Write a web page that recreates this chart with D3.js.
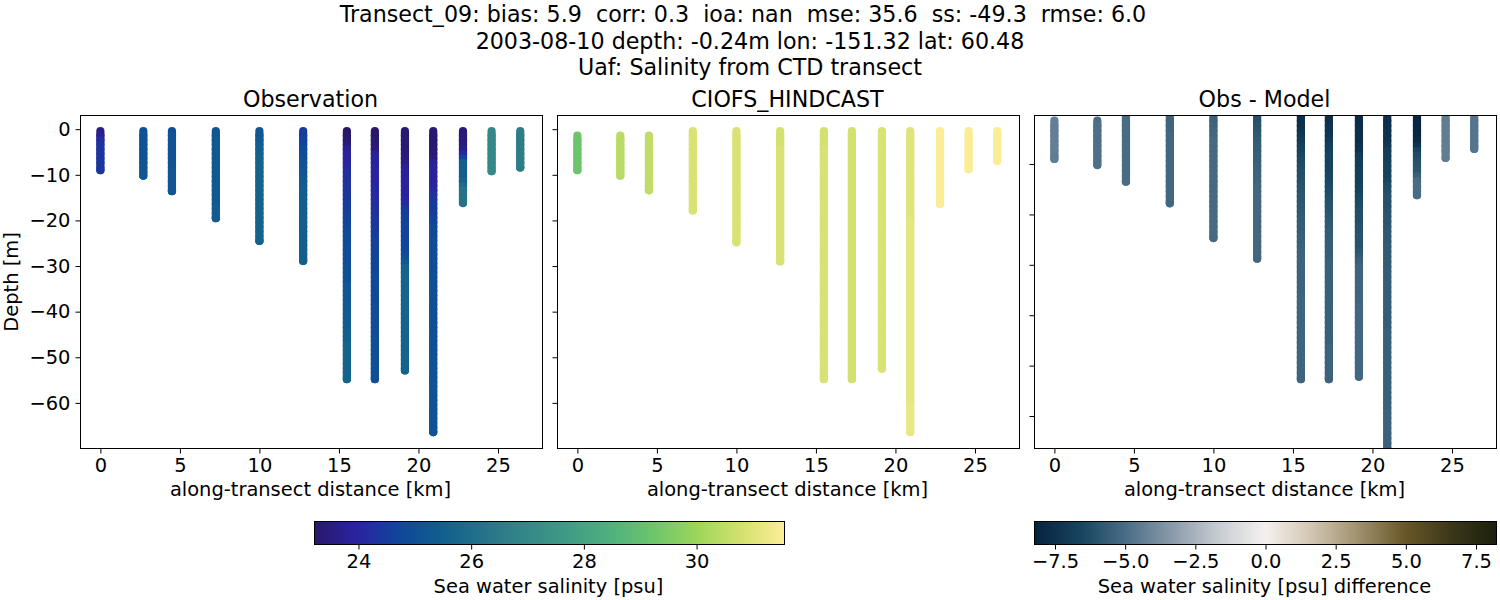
<!DOCTYPE html>
<html>
<head>
<meta charset="utf-8">
<script src="https://cdn.jsdelivr.net/npm/d3@7"></script>
<style>
  body { margin: 0; background: #fff; }
  text { font-family: "DejaVu Sans"; fill: #000; white-space: pre; }
</style>
</head>
<body>
<svg id="chart" width="1500" height="600"></svg>
<script>
const titleLines = [
  "Transect_09: bias: 5.9  corr: 0.3  ioa: nan  mse: 35.6  ss: -49.3  rmse: 6.0  ",
  "2003-08-10 depth: -0.24m lon: -151.32 lat: 60.48",
  "Uaf: Salinity from CTD transect"
];
const panelTitles = ["Observation", "CIOFS_HINDCAST", "Obs - Model"];

// along-transect distance of each station, km
const stationKm = [0, 2.7, 4.5, 7.26, 10, 12.75, 15.5, 17.26, 19.15, 20.93, 22.8, 24.6, 26.4];

// sampled depth levels, m (each station closes at its bottom depth below)
const depthLevels = [
  0.4, 1.4, 2.4, 3.4, 4.4, 5.4, 6.4, 7.4, 8.4, 9.4, 10.4, 11.4, 12.4, 13.4, 14.4, 15.4, 16.4,
  17.4, 18.4, 19.4, 20.4, 21.4, 22.4, 23.4, 24.4, 25.4, 26.4, 27.4, 28.4, 29.4, 30.4, 31.4, 32.4,
  33.4, 34.4, 35.4, 36.4, 37.4, 38.4, 39.4, 40.4, 41.4, 42.4, 43.4, 44.4, 45.4, 46.4, 47.4, 48.4,
  49.4, 50.4, 51.4, 52.4, 53.4, 54.4, 55.4, 56.4, 57.4, 58.4, 59.4, 60.4, 61.4, 62.4, 63.4, 64.4,
  65.4, 66.4
];

const obsBottom = [9.0, 10.2, 13.6, 19.5, 24.5, 28.9, 54.8, 54.8, 52.9, 66.4, 16.2, 9.2, 8.4];
const modelBottom = [9.0, 10.2, 13.3, 17.8, 24.8, 29.0, 54.8, 54.8, 52.5, 66.4, 16.4, 8.8, 7.0];
const diffBottom = [9.0, 10.2, 13.5, 17.8, 24.7, 28.8, 52.7, 52.7, 52.2, 66.5, 16.2, 8.8, 7.0];

// salinity per station, one value per depth level
const obsSalinity = [
  [23.6,23.8,24.1,24.3,24.3,24.3,24.3,24.4,24.4],
  [25.0,25.1,25.1,25.1,25.1,25.1,25.1,25.2,25.2,25.2],
  [25.0,25.1,25.1,25.1,25.1,25.1,25.1,25.1,25.1,25.2,25.2,25.2,25.2,25.2],
  [25.2,25.2,25.3,25.3,25.3,25.3,25.3,25.3,25.3,25.3,25.3,25.3,25.3,25.3,25.3,25.3,25.3,25.4,25.4,25.4],
  [25.2,25.2,25.3,25.4,25.5,25.5,25.6,25.6,25.6,25.6,25.6,25.6,25.6,25.6,25.6,25.6,25.6,25.6,25.6,25.6,25.6,25.6,25.6,25.6,25.6],
  [24.5,24.5,24.6,24.7,24.8,24.9,25.0,25.1,25.1,25.2,25.2,25.3,25.3,25.4,25.4,25.5,25.5,25.5,25.5,25.5,25.5,25.5,25.5,25.5,25.5,25.5,25.5,25.5,25.5],
  [23.2,23.2,23.3,23.4,23.8,23.9,23.9,24.0,24.1,24.2,24.2,24.3,24.3,24.3,24.4,24.4,24.5,24.5,24.6,24.6,24.7,24.7,24.8,24.8,24.8,24.8,24.9,24.9,24.9,24.9,25.0,25.0,25.0,25.0,25.2,25.2,25.2,25.2,25.3,25.3,25.3,25.3,25.4,25.4,25.5,25.5,25.5,25.6,25.6,25.6,25.6,25.6,25.6,25.6,25.6],
  [23.2,23.2,23.3,23.3,23.4,23.8,23.9,23.9,24.0,24.0,24.0,24.0,24.0,24.1,24.1,24.1,24.2,24.2,24.3,24.3,24.4,24.4,24.5,24.5,24.6,24.6,24.6,24.7,24.7,24.7,24.7,24.7,24.8,24.8,24.8,24.8,24.8,24.8,24.8,24.9,24.9,24.9,24.9,24.9,24.9,24.9,25.0,25.0,25.0,25.0,25.0,25.0,25.0,25.0,25.0],
  [23.3,23.3,23.3,23.3,23.3,23.4,23.4,23.5,23.8,23.9,23.9,23.9,23.9,23.9,23.9,24.0,24.1,24.4,24.5,24.6,24.6,24.6,24.6,24.6,24.7,24.7,24.7,24.8,25.0,25.3,25.6,25.6,25.6,25.6,25.6,25.6,25.6,25.6,25.6,25.6,25.6,25.6,25.6,25.6,25.6,25.6,25.6,25.6,25.6,25.6,25.6,25.6,25.6],
  [23.3,23.3,23.3,23.3,23.3,23.3,23.4,23.8,23.9,23.9,23.9,23.9,23.9,24.1,24.3,24.4,24.5,24.5,24.5,24.6,24.7,24.8,24.8,24.8,24.9,24.9,24.9,24.9,24.9,24.9,24.9,25.0,25.0,25.0,25.0,25.0,25.0,25.0,25.0,25.0,25.0,25.0,25.0,25.0,25.0,25.0,25.0,25.0,25.0,25.0,25.0,25.1,25.1,25.1,25.1,25.1,25.1,25.1,25.1,25.1,25.1,25.1,25.1,25.1,25.1,25.1,25.1],
  [23.4,23.4,23.5,23.5,23.6,24.0,24.6,25.4,25.5,25.5,25.5,25.6,25.9,26.2,26.2,26.2],
  [27.0,27.0,27.0,27.0,27.0,27.0,27.0,27.0,27.0],
  [26.6,26.6,26.6,26.6,26.6,26.6,26.6,26.6,26.6]
];

const modelSalinity = [
  [null,29.2,29.2,29.2,29.2,29.2,29.2,29.2,29.2],
  [null,30.4,30.4,30.4,30.4,30.4,30.4,30.4,30.4,30.4],
  [null,30.5,30.5,30.5,30.5,30.5,30.5,30.5,30.5,30.5,30.5,30.5,30.5,30.5],
  [30.9,30.9,30.9,30.9,30.9,30.9,30.9,30.9,30.9,30.9,30.9,30.9,30.9,30.9,30.9,30.9,30.9,30.9],
  [30.9,30.9,30.9,30.9,30.9,30.9,30.9,30.9,30.9,30.9,30.9,30.9,30.9,30.9,30.9,30.9,30.9,30.9,30.9,30.9,30.9,30.9,30.9,30.9,30.9],
  [30.8,30.8,30.8,30.8,30.9,30.9,30.9,30.9,30.9,30.9,30.9,30.9,30.9,30.9,30.9,30.9,30.9,30.9,30.9,30.9,30.9,30.9,30.9,30.9,30.9,30.9,30.9,30.9,30.9],
  [30.8,30.8,30.8,30.8,30.9,30.9,30.9,30.9,30.9,30.9,30.9,30.9,30.9,30.9,30.9,30.9,30.9,30.9,30.9,30.9,30.9,30.9,30.9,30.9,30.9,30.9,30.9,30.9,30.9,30.9,30.9,30.9,30.9,30.9,30.9,30.9,30.9,30.9,30.9,30.9,30.9,30.9,30.9,30.9,30.9,30.9,30.9,30.9,30.9,30.9,30.9,30.9,30.9,30.9,30.9],
  [30.8,30.8,30.8,30.8,30.8,30.8,30.8,30.8,30.8,30.8,30.8,30.8,30.8,30.8,30.8,30.8,30.8,30.8,30.8,30.8,30.8,30.8,30.8,30.8,30.8,30.8,30.8,30.8,30.8,30.8,30.8,30.8,30.8,30.8,30.8,30.8,30.8,30.8,30.8,30.8,30.8,30.8,30.8,30.8,30.8,30.8,30.8,30.8,30.8,30.8,30.8,30.8,30.8,30.8,30.8],
  [30.9,30.9,30.9,30.9,30.9,30.9,30.9,30.9,30.9,30.9,30.9,30.9,30.9,30.9,30.9,30.9,30.9,30.9,30.9,30.9,30.9,30.9,30.9,30.9,30.9,30.9,30.9,30.9,30.9,30.9,30.9,30.9,30.9,30.9,30.9,30.9,30.9,30.9,30.9,30.9,30.9,30.9,30.9,30.9,30.9,30.9,30.9,30.9,30.9,30.9,30.9,30.9],
  [31.0,31.0,31.0,31.0,31.0,31.0,31.0,31.0,31.0,31.0,31.0,31.0,31.0,31.0,31.0,31.0,31.0,31.0,31.0,31.0,31.1,31.1,31.1,31.1,31.1,31.1,31.1,31.1,31.1,31.1,31.1,31.1,31.1,31.1,31.1,31.1,31.1,31.1,31.1,31.1,31.1,31.1,31.1,31.1,31.1,31.1,31.1,31.1,31.1,31.1,31.1,31.1,31.1,31.1,31.1,31.1,31.1,31.1,31.1,31.1,31.2,31.2,31.2,31.2,31.2,31.2,31.2],
  [31.5,31.5,31.5,31.5,31.5,31.5,31.5,31.5,31.5,31.5,31.5,31.5,31.5,31.5,31.5,31.5],
  [31.5,31.5,31.5,31.5,31.5,31.5,31.5,31.5,31.5],
  [31.5,31.5,31.5,31.5,31.5,31.5,31.5]
];

const diffSalinity = [
  [null,-4.3,-4.3,-4.3,-4.3,-4.3,-4.3,-4.3,-4.4],
  [null,-5.0,-4.9,-4.9,-4.9,-4.9,-4.9,-4.9,-4.9,-4.9],
  [-5.0,-5.0,-5.0,-5.0,-5.0,-5.0,-5.0,-5.0,-5.0,-5.0,-5.0,-5.0,-5.0,-5.0],
  [-5.3,-5.3,-5.3,-5.3,-5.2,-5.2,-5.2,-5.2,-5.2,-5.2,-5.2,-5.2,-5.2,-5.2,-5.2,-5.2,-5.2,-5.2],
  [-5.4,-5.4,-5.3,-5.2,-5.2,-5.1,-5.1,-5.1,-5.1,-5.1,-5.1,-5.1,-5.1,-5.1,-5.1,-5.1,-5.1,-5.1,-5.1,-5.1,-5.1,-5.1,-5.1,-5.1,-5.1],
  [-6.2,-6.1,-6.0,-5.9,-5.8,-5.7,-5.6,-5.6,-5.5,-5.5,-5.4,-5.4,-5.3,-5.3,-5.2,-5.2,-5.2,-5.2,-5.2,-5.2,-5.2,-5.2,-5.2,-5.2,-5.2,-5.2,-5.2,-5.2,-5.2],
  [-7.6,-7.6,-7.5,-7.4,-7.2,-7.0,-6.8,-6.6,-6.5,-6.4,-6.3,-6.2,-6.2,-6.1,-6.0,-6.0,-5.9,-5.9,-5.8,-5.8,-5.7,-5.7,-5.6,-5.6,-5.5,-5.5,-5.4,-5.4,-5.4,-5.4,-5.4,-5.4,-5.4,-5.4,-5.4,-5.4,-5.3,-5.3,-5.3,-5.3,-5.3,-5.3,-5.3,-5.3,-5.3,-5.3,-5.3,-5.3,-5.3,-5.3,-5.3,-5.3,-5.3],
  [-7.6,-7.6,-7.5,-7.4,-7.3,-7.1,-6.9,-6.8,-6.7,-6.7,-6.6,-6.6,-6.5,-6.5,-6.4,-6.3,-6.2,-6.1,-6.0,-6.0,-5.9,-5.8,-5.8,-5.7,-5.7,-5.6,-5.6,-5.6,-5.6,-5.5,-5.5,-5.5,-5.5,-5.5,-5.5,-5.5,-5.5,-5.5,-5.5,-5.5,-5.5,-5.5,-5.5,-5.5,-5.5,-5.5,-5.4,-5.4,-5.4,-5.4,-5.4,-5.4,-5.4],
  [-7.7,-7.7,-7.7,-7.6,-7.6,-7.6,-7.5,-7.4,-7.0,-6.9,-6.9,-6.8,-6.8,-6.8,-6.7,-6.6,-6.5,-6.4,-6.3,-6.2,-6.2,-6.2,-6.1,-6.1,-6.0,-6.0,-6.0,-5.9,-5.7,-5.5,-5.3,-5.3,-5.3,-5.3,-5.3,-5.3,-5.3,-5.3,-5.2,-5.2,-5.2,-5.2,-5.2,-5.2,-5.2,-5.2,-5.2,-5.2,-5.2,-5.2,-5.2,-5.2],
  [-7.6,-7.6,-7.6,-7.5,-7.5,-7.4,-7.2,-6.9,-6.8,-6.8,-6.7,-6.7,-6.7,-6.5,-6.3,-6.2,-6.1,-6.1,-6.1,-6.0,-5.9,-5.9,-5.9,-5.8,-5.8,-5.8,-5.7,-5.7,-5.7,-5.7,-5.7,-5.6,-5.6,-5.6,-5.6,-5.6,-5.6,-5.6,-5.6,-5.6,-5.6,-5.6,-5.6,-5.5,-5.5,-5.5,-5.5,-5.5,-5.5,-5.5,-5.5,-5.5,-5.5,-5.5,-5.5,-5.5,-5.5,-5.5,-5.5,-5.4,-5.4,-5.4,-5.4,-5.4,-5.4,-5.4,-5.4],
  [-8.1,-8.1,-8.1,-8.0,-8.0,-7.8,-7.4,-6.6,-6.3,-6.1,-6.0,-5.9,-5.5,-5.0,-5.0,-5.0],
  [-4.4,-4.4,-4.4,-4.4,-4.4,-4.4,-4.4,-4.4],
  [-4.7,-4.7,-4.7,-4.7,-4.7,-4.7,-4.7]
];

const xTicks = [0, 5, 10, 15, 20, 25];
const yTicks = [0, -10, -20, -30, -40, -50, -60];
const salinityTicks = [24, 26, 28, 30];
const diffTicks = [-7.5, -5, -2.5, 0, 2.5, 5, 7.5];

// cmocean haline and diff, evenly spaced
const halineColors = ["rgb(41,24,107)","rgb(42,35,160)","rgb(15,71,153)","rgb(18,95,142)","rgb(38,116,137)","rgb(53,136,136)","rgb(65,157,133)","rgb(81,178,124)","rgb(111,198,107)","rgb(160,214,91)","rgb(212,225,112)","rgb(253,238,153)"];
const diffColors = ["rgb(7,34,63)","rgb(22,68,95)","rgb(75,110,135)","rgb(140,155,170)","rgb(200,205,212)","rgb(245,240,238)","rgb(210,198,178)","rgb(160,145,110)","rgb(105,88,40)","rgb(60,55,25)","rgb(28,32,14)"];

const salinityColor = d3.scaleSequential(d3.piecewise(d3.interpolateRgb, halineColors)).domain([23.22, 31.56]);
const diffColor = d3.scaleSequential(d3.piecewise(d3.interpolateRgb, diffColors)).domain([-8.23, 8.23]);

const svg = d3.select("#chart");
const defs = svg.append("defs");
const top_ = 115.5, bottom_ = 448.5, panelW = 462;
const tickFont = 19.44, titleFont = 22.2;

svg.append("g").selectAll("text").data(titleLines).join("text")
  .attr("x", 750).attr("y", (d, i) => 22 + i * 26.5)
  .attr("text-anchor", "middle").attr("font-size", titleFont).text(d => d);

function stationPoints(values, bottoms, s) {
  const pts = [];
  values[s].forEach((v, i) => {
    if (v !== null) pts.push({ depth: depthLevels[i], v });
  });
  // closing sample at the station bottom
  pts.push({ depth: bottoms[s], v: values[s][values[s].length - 1] });
  return pts;
}

function styleAxis(a) {
  a.select(".domain").remove();
  a.selectAll("line").attr("stroke", "#000");
  a.selectAll("text").attr("font-size", tickFont).attr("font-family", "DejaVu Sans").attr("fill", "#000");
}

function drawPanel(i, left, values, bottoms, color, yDomain, ticks) {
  const g = svg.append("g");
  const x = d3.scaleLinear().domain([-1.25, 27.8]).range([left, left + panelW]);
  const y = d3.scaleLinear().domain(yDomain).range([top_, bottom_]);

  defs.append("clipPath").attr("id", "clip" + i).append("rect")
    .attr("x", left).attr("y", top_).attr("width", panelW).attr("height", bottom_ - top_);

  const marks = g.append("g").attr("clip-path", `url(#clip${i})`);
  stationKm.forEach((km, s) => {
    const pts = stationPoints(values, bottoms, s);
    // one round-capped stroke per sample, running down to the next sample
    marks.append("g").selectAll("line").data(pts).join("line")
      .attr("x1", x(km))
      .attr("x2", x(km))
      .attr("y1", d => y(-d.depth))
      .attr("y2", (d, j) => y(-(j < pts.length - 1 ? pts[j + 1].depth : d.depth)))
      .attr("stroke", d => color(d.v))
      .attr("stroke-width", 8.2)
      .attr("stroke-linecap", "round");
  });

  const xAxis = d3.axisBottom(x).tickValues(xTicks).tickSize(5).tickPadding(5).tickFormat(d3.format("d"));
  const yAxis = d3.axisLeft(y).tickValues(ticks).tickSize(5).tickPadding(5);
  yAxis.tickFormat(i === 0 ? d3.format("d") : "");

  styleAxis(g.append("g").attr("transform", `translate(0,${bottom_})`).call(xAxis));
  styleAxis(g.append("g").attr("transform", `translate(${left},0)`).call(yAxis));

  g.append("rect").attr("x", left).attr("y", top_).attr("width", panelW).attr("height", bottom_ - top_)
    .attr("fill", "none").attr("stroke", "#000").attr("stroke-width", 1);

  g.append("text").attr("x", left + panelW / 2 - 1).attr("y", 107)
    .attr("text-anchor", "middle").attr("font-size", titleFont).text(panelTitles[i]);
  g.append("text").attr("x", left + panelW / 2 - 1).attr("y", 496)
    .attr("text-anchor", "middle").attr("font-size", tickFont).text("along-transect distance [km]");
}

drawPanel(0, 80.5, obsSalinity, obsBottom, salinityColor, [3, -70], yTicks);
drawPanel(1, 557.5, modelSalinity, modelBottom, salinityColor, [3, -70], yTicks);
drawPanel(2, 1034.5, diffSalinity, diffBottom, diffColor, [-0.37, -66.45], yTicks.slice(1));

svg.append("text").attr("transform", "translate(18,282) rotate(-90)")
  .attr("text-anchor", "middle").attr("font-size", tickFont).text("Depth [m]");

function drawColorbar(id, x0, x1, domain, colors, ticks, format, label) {
  const grad = defs.append("linearGradient").attr("id", id);
  grad.selectAll("stop").data(colors).join("stop")
    .attr("offset", (d, i) => i / (colors.length - 1))
    .attr("stop-color", d => d);

  const x = d3.scaleLinear().domain(domain).range([x0, x1]);
  const g = svg.append("g");
  g.append("rect").attr("x", x0).attr("y", 521.5).attr("width", x1 - x0).attr("height", 23)
    .attr("fill", `url(#${id})`).attr("stroke", "#000");

  styleAxis(g.append("g").attr("transform", "translate(0,544.5)")
    .call(d3.axisBottom(x).tickValues(ticks).tickSize(5).tickPadding(5).tickFormat(format)));

  g.append("text").attr("x", (x0 + x1) / 2 - 1).attr("y", 593)
    .attr("text-anchor", "middle").attr("font-size", tickFont).text(label);
}

drawColorbar("cbSal", 314.5, 784.5, [23.22, 31.56], halineColors, salinityTicks, d3.format("d"), "Sea water salinity [psu]");
drawColorbar("cbDiff", 1034.5, 1496.5, [-8.23, 8.23], diffColors, diffTicks, d3.format(".1f"), "Sea water salinity [psu] difference");
</script>
</body>
</html>
